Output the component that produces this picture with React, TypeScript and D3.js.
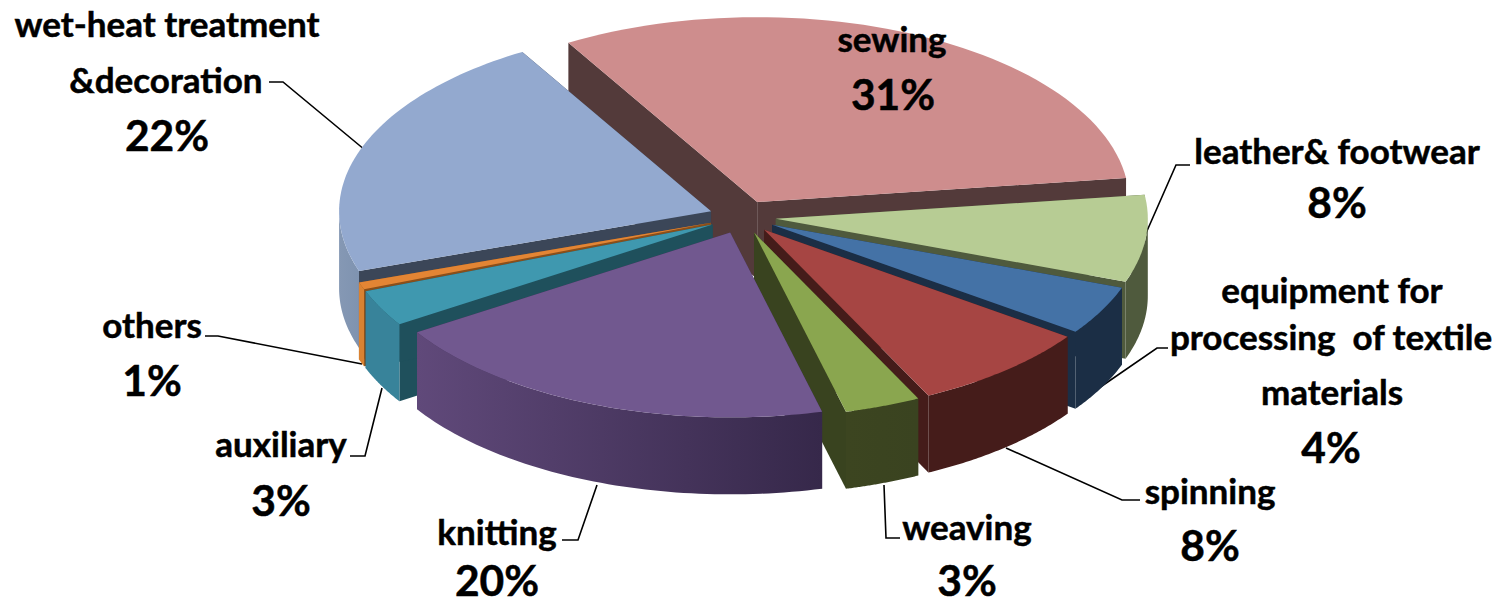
import React from "react";
import * as d3 from "d3";

const categories = ["sewing", "leather& footwear", "equipment for processing of textile materials", "spinning", "weaving", "knitting", "auxiliary", "others", "wet-heat treatment &decoration"];
const values = [31.4, 7.6, 4.3, 7.9, 3.3, 19.9, 3.2, 0.64, 21.76];
const topColors = ["#CE8D8D", "#B7CC94", "#4472A6", "#A64543", "#8AA64F", "#71588F", "#3F98AF", "#E38534", "#93A9CF"];
const innerColors = ["#533A3A", "#4F5A3D", "#1B2E45", "#451C1A", "#39431F", "#3C2C4E", "#1F505C", "#8A4F1A", "#3B4658"];
const outerLeft = ["#533A3A", "#4F5A3D", "#1B2E45", "#451C1A", "#3C4520", "#60497A", "#38839A", "#D98232", "#8598B4"];
const outerRight = ["#533A3A", "#4F5A3D", "#1B2E45", "#451C1A", "#3A4320", "#36284A", "#38839A", "#D98232", "#7F93B0"];
const drawOrder = [0, 8, 7, 6, 1, 2, 3, 4, 5];

const labelLines: [string, number, number, boolean][] = [
  ["wet-heat treatment", 167, 37, false], ["&decoration", 166, 93, false], ["22%", 167, 151, true],
  ["sewing", 892, 52, false], ["31%", 893, 110, true],
  ["leather& footwear", 1337, 164, false], ["8%", 1337, 218, true],
  ["equipment for", 1332, 303, false], ["processing  of textile", 1331, 350, false], ["materials", 1332, 405, false], ["4%", 1331, 463, true],
  ["spinning", 1210, 504, false], ["8%", 1210, 561, true],
  ["weaving", 967, 540, false], ["3%", 967, 596, true],
  ["knitting", 497, 545, false], ["20%", 497, 596, true],
  ["auxiliary", 281, 457, false], ["3%", 281, 516, true],
  ["others", 152, 338, false], ["1%", 152, 396, true],
];
const leaders: [number, number][][] = [
  [[269, 82], [283, 82], [365, 150]],
  [[1190, 165], [1176, 165], [1143, 240]],
  [[1099, 388], [1157, 348], [1168, 348]],
  [[1006, 448], [1122, 500], [1140, 500]],
  [[884, 485], [886, 538], [900, 538]],
  [[597, 485], [578, 540], [562, 540]],
  [[382, 388], [365, 456], [350, 456]],
  [[362, 364], [218, 336], [205, 336]],
];

const W = 1496, H = 604;
const CX = 742.5, CY = 217, EXPLODE = 33.5, RX = 372, TILT = 0.497, DEPTH = 77;
const FONT = "Lato, 'Open Sans', sans-serif";

const rad = (d: number) => (d * Math.PI) / 180;
const START = rad(-30.5);
const arcs = d3.pie<number>().sort(null).value((d) => d).startAngle(START).endAngle(START + 2 * Math.PI)(values);
const lineGen = d3.line<[number, number]>();
const px = d3.scaleLinear().domain([-1, 1]).range([-RX, RX]);
const py = d3.scaleLinear().domain([-1, 1]).range([-RX * TILT, RX * TILT]);

function slicePaths(a: d3.PieArcDatum<number>) {
  const mid = (a.startAngle + a.endAngle) / 2;
  const ox = CX + EXPLODE * Math.sin(mid);
  const oy = CY - EXPLODE * TILT * Math.cos(mid);
  const pt = (t: number, dz = 0): [number, number] => [ox + px(Math.sin(t)), oy + py(-Math.cos(t)) + dz];
  const apex: [number, number] = [ox, oy];
  const apexB: [number, number] = [ox, oy + DEPTH];
  const sample = (s: number, e: number) => d3.range(0, 61).map((i) => s + ((e - s) * i) / 60);
  const top = lineGen([apex, ...sample(a.startAngle, a.endAngle).map((t) => pt(t))]) + "Z";
  const wallAt = (t: number) => lineGen([apex, pt(t), pt(t, DEPTH), apexB]) + "Z";
  // the curved rim is only seen on the near half of the pie
  const lo = Math.max(a.startAngle, Math.PI / 2), hi = Math.min(a.endAngle, 1.5 * Math.PI);
  let outer: string | null = null, x0 = 0, x1 = 0;
  if (hi > lo) {
    const ts = sample(lo, hi);
    outer = lineGen([...ts.map((t) => pt(t)), ...ts.slice().reverse().map((t) => pt(t, DEPTH))]) + "Z";
    const xs = ts.map((t) => pt(t)[0]);
    x0 = d3.min(xs)!; x1 = d3.max(xs)!;
  }
  return { top, startWall: wallAt(a.startAngle), endWall: wallAt(a.endAngle), outer, x0, x1 };
}

export default function App() {
  const slices = arcs.map(slicePaths);
  return (
    <svg width={W} height={H} viewBox={`0 0 ${W} ${H}`} style={{ position: "absolute", left: 0, top: 0, background: "#fff" }}>
      <defs>
        {slices.map((s, i) => (
          <linearGradient key={i} id={`rim${i}`} gradientUnits="userSpaceOnUse" x1={s.x0} x2={s.x1 || 1} y1={0} y2={0}>
            <stop offset="0" stopColor={outerLeft[i]} />
            <stop offset="1" stopColor={outerRight[i]} />
          </linearGradient>
        ))}
      </defs>
      {leaders.map((l, i) => (
        <path key={i} d={lineGen(l) ?? ""} fill="none" stroke="#000" strokeWidth={1.6} />
      ))}
      {drawOrder.map((i) => {
        const s = slices[i];
        return (
          <g key={i}>
            <path d={s.startWall} fill={innerColors[i]} />
            <path d={s.endWall} fill={innerColors[i]} />
            {s.outer && <path d={s.outer} fill={`url(#rim${i})`} />}
            <path d={s.top} fill={topColors[i]} />
          </g>
        );
      })}
      {labelLines.map(([t, x, y, big], i) => (
        <text key={i} x={x} y={y} textAnchor="middle" fontFamily={FONT} fontWeight={700} fontSize={big ? 42.5 : 35} fill="#000" stroke="#000" strokeWidth={0.5} style={{ whiteSpace: "pre" }}>
          {t}
        </text>
      ))}
    </svg>
  );
}
